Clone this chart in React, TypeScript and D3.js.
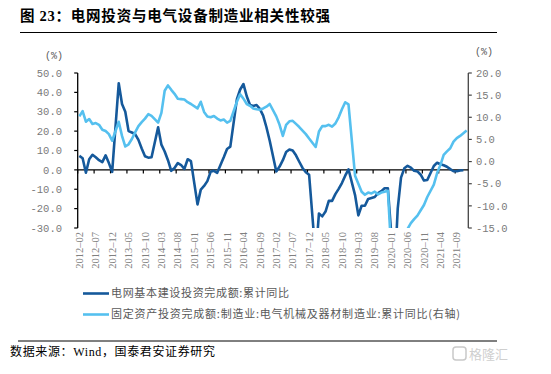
import React from "react";
import * as d3 from "d3";

// monthly categories, 2012-02 .. 2021-12 (January has no cumulative figure)
const months = d3
  .timeMonths(new Date(2012, 1, 1), new Date(2022, 0, 1))
  .map(d3.timeFormat("%Y-%m"));

// 电网基本建设投资完成额:累计同比 (left axis, %)
const gridInvest: (number | null)[] = [
  7.2, 6.0, -1.5, 5.5, 7.8, 6.5, 5.0, 4.0, 7.5, 3.5, -1.0,
  null, 44.7, 34, 30, 20, 19.3, 18.5, 15.5, 11, 7, 6.3, 6.5,
  null, 22, 13, 9.5, 5, -0.5, 1, 3.5, 2.5, 0.5, 5.5, 4.5,
  null, -17.8, -10.2, -8.3, -5.8, -1, -0.5, -1.5, 2.5, 6.5, 10.8, 12,
  null, 36.5, 41.5, 44.3, 38, 33.5, 33, 33.5, 31.5, 28, 22, 15,
  null, -0.8, 1.7, 5, 9.2, 10.5, 10, 7.5, 4.2, 1, -1.2, -2.5,
  null, -45, -22.5, -24, -21.5, -16, -16, -12.5, -9.8, -6.8, -3, 0.3,
  null, -13, -23.5, -18.5, -18.5, -15, -14.5, -14, -12, -11, -9.5, -9.5,
  null, -55, -20, -4, 0.8, 2.1, 1.2, -0.5, -0.8, -2.5, -5.5, -5.2,
  null, 2.0, 3.7, 2.9, 2.4, 1.6, 0.4, -0.7, -0.7, -0.3, -0.2, null,
];

// 固定资产投资完成额:制造业:电气机械及器材制造业:累计同比 (right axis, %)
const elecMfgInvest: (number | null)[] = [
  10.2, 11.4, 9.0, 9.6, 8.5, 8.7, 8.3, 7.2, 6.9, 6.2, 4.7,
  null, 9.0, 5.8, 3.4, 3.9, 5.1, 6.6, 8.0, 8.9, 9.7, 10.7, 10.3,
  null, 8.8, 11.0, 16.0, 17.2, 16.2, 15.3, 14.2, 14.1, 14.0, 13.4, 13.0,
  null, 12.0, 13.5, 11.2, 10.2, 10.0, 10.3, 9.7, 9.3, 9.5, 8.8, 9.2,
  null, 13.5, 15.2, 14.2, 13.0, 12.6, 12.0, 11.8, 11.7, 12.0, 12.4, 13.0,
  null, 10.2, 8.3, 5.8, 8.3, 9.1, 9.2, 8.5, 7.8, 7.0, 6.2, 5.2,
  null, 3.3, 6.8, 8.0, 8.0, 8.3, 7.9, 8.6, 10.0, 11.8, 13.4, 12.9,
  null, -3.2, -5.0, -6.8, -7.5, -7.0, -7.2, -6.8, -7.4, -7.0, -6.8, -6.6,
  null, -33, -27, -22, -18, -15.2, -13.9, -13.0, -12.2, -11.0, -9.8, -8.0,
  null, -5.2, -2.6, -0.8, 1.5, 2.3, 3.0, 4.5, 5.3, 5.8, 6.4, 7.0,
];

const leftTicks = [50, 40, 30, 20, 10, 0, -10, -20, -30];
const rightTicks = [20, 15, 10, 5, 0, -5, -10, -15];

const DARK = "#15599b";
const LIGHT = "#55c0ef";
const CJK = "'Noto Sans CJK SC', 'Noto Sans', sans-serif";
const MONO = "'Liberation Mono', 'DejaVu Sans Mono', monospace";

const App = () => {
  const left = 77.7, right = 468.3, top = 73, bottom = 228;

  const x = d3.scaleBand().domain(months).range([left, right]).padding(0);
  const yL = d3.scaleLinear().domain([-30, 50]).range([bottom, top]);
  const yR = d3.scaleLinear().domain([-15, 20]).range([bottom, top]);
  const cx = (i: number) => (x(months[i]) as number) + x.bandwidth() / 2;

  const makePath = (vals: (number | null)[], y: d3.ScaleLinear<number, number>) => {
    // connect over the missing January points, like the source chart
    const pts = vals
      .map((v, i) => [i, v] as [number, number | null])
      .filter((p) => p[1] != null) as [number, number][];
    return d3.line<[number, number]>()
      .x((p) => cx(p[0]))
      .y((p) => y(p[1]))(pts) as string;
  };

  const y0 = yL(0);
  const tickIdx = months.map((_, i) => i).filter((i) => i % 5 === 0);

  return (
    <svg width={551} height={374} style={{ position: "absolute", left: 0, top: 0, background: "#fff" }}>
      <defs>
        <clipPath id="plot-clip">
          <rect x={left} y={top - 10} width={right - left + 2} height={bottom - top + 10} />
        </clipPath>
      </defs>

      {/* title */}
      <text x={20} y={20.5} fontSize={14.5} fontWeight="bold" fontFamily={CJK} fill="#000" textLength={310} lengthAdjust="spacing">
        图 <tspan fontFamily="'Liberation Serif', serif">23</tspan>：电网投资与电气设备制造业相关性较强
      </text>
      <line x1={20} x2={497} y1={32.5} y2={32.5} stroke="#000" strokeWidth={1} />

      {/* unit labels */}
      <text x={54} y={55} textAnchor="middle" fontSize={10} fontFamily={MONO} fill="#595959" dy="0.35em">(%)</text>
      <text x={484} y={51} textAnchor="middle" fontSize={10} fontFamily={MONO} fill="#595959" dy="0.35em">(%)</text>

      {/* left axis */}
      <line x1={left} x2={left} y1={top} y2={bottom} stroke="#000" strokeWidth={1.3} />
      {leftTicks.map((t) => (
        <g key={"l" + t}>
          <line x1={left - 3.5} x2={left} y1={yL(t)} y2={yL(t)} stroke="#000" strokeWidth={1.2} />
          <text x={62} y={yL(t)} dy="0.35em" textAnchor="end" fontSize={10.5} fontFamily={MONO} fill="#7a7a7a">
            {t.toFixed(1)}
          </text>
        </g>
      ))}

      {/* right axis */}
      <line x1={right} x2={right} y1={top} y2={bottom} stroke="#444" strokeWidth={1.3} />
      {rightTicks.map((t) => (
        <g key={"r" + t}>
          <line x1={right} x2={right + 3.5} y1={yR(t)} y2={yR(t)} stroke="#444" strokeWidth={1.2} />
          <text x={476} y={yR(t)} dy="0.35em" textAnchor="start" fontSize={10.5} fontFamily={MONO} fill="#7a7a7a">
            {t.toFixed(1)}
          </text>
        </g>
      ))}

      {/* category axis on the zero line */}
      <line x1={left} x2={right} y1={y0} y2={y0} stroke="#000" strokeWidth={1.3} />
      {tickIdx.map((i) => (
        <line key={"xt" + i} x1={x(months[i])} x2={x(months[i])} y1={y0} y2={y0 + 3.5} stroke="#000" strokeWidth={1.2} />
      ))}
      {tickIdx.map((i) => (
        <text
          key={"xl" + i}
          transform={`translate(${cx(i)},232) rotate(-90)`}
          dy="0.35em"
          textAnchor="end"
          fontSize={10.5}
          fontFamily="'Liberation Serif', serif"
          fill="#808080"
        >
          {months[i].replace("-", "\u2013")}
        </text>
      ))}

      {/* series */}
      <g clipPath="url(#plot-clip)">
        <path d={makePath(gridInvest, yL)} fill="none" stroke={DARK} strokeWidth={2.6} strokeLinejoin="round" />
        <path d={makePath(elecMfgInvest, yR)} fill="none" stroke={LIGHT} strokeWidth={2.6} strokeLinejoin="round" />
      </g>

      {/* legend */}
      <line x1={83} x2={109} y1={293.5} y2={293.5} stroke={DARK} strokeWidth={2.6} />
      <text x={111} y={293.5} dy="0.35em" fontSize={11} fontFamily={CJK} fill="#595959" textLength={178} lengthAdjust="spacing">
        电网基本建设投资完成额:累计同比
      </text>
      <line x1={83} x2={109} y1={314.5} y2={314.5} stroke={LIGHT} strokeWidth={2.6} />
      <text x={111} y={314.5} dy="0.35em" fontSize={11} fontFamily={CJK} fill="#595959" textLength={349} lengthAdjust="spacing">
        固定资产投资完成额:制造业:电气机械及器材制造业:累计同比(右轴)
      </text>

      {/* footer */}
      <line x1={18} x2={497} y1={341} y2={341} stroke="#000" strokeWidth={1} />
      <text x={10} y={356} fontSize={12} fontFamily={CJK} fill="#000" textLength={205} lengthAdjust="spacing">
        数据来源：<tspan fontFamily="'Liberation Serif', serif">Wind</tspan>，国泰君安证券研究
      </text>

      {/* watermark */}
      <rect x={453} y={347} width={13} height={13} rx={3} fill="none" stroke="#c9c9c9" strokeWidth={1.5} />
      <text x={469} y={358.5} fontSize={13} fontFamily={CJK} fill="#cfcfcf">格隆汇</text>
    </svg>
  );
};

export default App;
